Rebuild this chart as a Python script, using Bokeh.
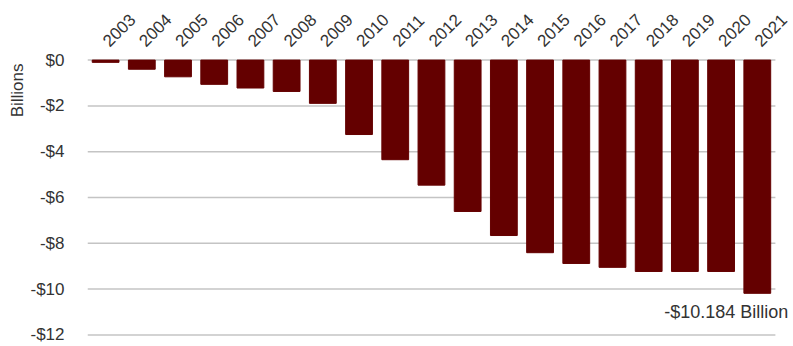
import math

from bokeh.core.properties import value
from bokeh.embed import file_html
from bokeh.models import ColumnDataSource, FixedTicker, Range1d, Title
from bokeh.plotting import figure
from bokeh.resources import INLINE

# Cumulative balance by year, in billions of dollars
years = [str(y) for y in range(2003, 2022)]
balances = [-0.1, -0.4, -0.73, -1.06, -1.22, -1.37, -1.89, -3.25, -4.35,
            -5.46, -6.61, -7.66, -8.41, -8.88, -9.05, -9.23, -9.23, -9.23,
            -10.184]
y_ticks = [0, -2, -4, -6, -8, -10, -12]
y_tick_labels = ["$0", "-$2", "-$4", "-$6", "-$8", "-$10", "-$12"]

FONT = "Liberation Sans"
TEXT = "#333333"
BAR = "#640000"
GRID = "#c4c4c4"

n = len(years)
xpos = list(range(n))
src = ColumnDataSource(dict(x=xpos, year=years, balance=balances))

# The plot area runs to the right edge so the closing label has room;
# the grid lines themselves stop at the last bar's slot.
p = figure(
    width=793, height=346,
    frame_width=706, frame_height=284,
    x_range=Range1d(-0.5, n),
    y_range=Range1d(-12.2, 0.2),
    x_axis_location="above",
    output_backend="svg", toolbar_location=None,
    min_border_left=87, min_border_right=0,
    min_border_top=55, min_border_bottom=7,
)
p.outline_line_color = None
p.background_fill_color = "white"
p.xgrid.grid_line_color = None
p.ygrid.grid_line_color = None

# Horizontal guide lines at each tick, across the bar slots
p.segment(x0=[-0.5] * len(y_ticks), x1=[n - 0.5] * len(y_ticks),
          y0=y_ticks, y1=y_ticks, line_color=GRID, line_width=1.5)

p.vbar(x="x", top="balance", bottom=0, width=0.74, source=src,
       fill_color=BAR, line_color=BAR)

# Label the most recent year with its value, just under its bar
last = ColumnDataSource(dict(
    x=[xpos[-1]], balance=[balances[-1]],
    label=["-$%.3f Billion" % abs(balances[-1])],
))
p.text(x="x", y="balance", text="label", source=last,
       x_offset=31, y_offset=19, text_align="right", text_baseline="middle",
       text_font=value(FONT), text_font_size="18px", text_color=TEXT)

xa = p.xaxis[0]
xa.ticker = FixedTicker(ticks=xpos)
xa.major_label_overrides = {x: y for x, y in zip(xpos, years)}
xa.axis_line_color = None
xa.major_tick_line_color = None
xa.minor_tick_line_color = None
xa.major_label_orientation = math.pi / 4
xa.major_label_standoff = 6
xa.major_label_text_font = FONT
xa.major_label_text_font_size = "17px"
xa.major_label_text_color = TEXT

ya = p.yaxis[0]
ya.ticker = FixedTicker(ticks=y_ticks)
ya.major_label_overrides = {t: s for t, s in zip(y_ticks, y_tick_labels)}
ya.axis_line_color = None
ya.major_tick_line_color = None
ya.minor_tick_line_color = None
ya.major_label_standoff = 17
ya.major_label_text_font = FONT
ya.major_label_text_font_size = "17px"
ya.major_label_text_color = TEXT

# Units title runs up the left side, level with the top of the scale
p.add_layout(Title(
    text="Billions", align="right", offset=8, standoff=2,
    text_font=FONT, text_font_size="17px", text_font_style="normal",
    text_color=TEXT,
), "left")

open("out.html", "w").write(file_html(p, INLINE))
